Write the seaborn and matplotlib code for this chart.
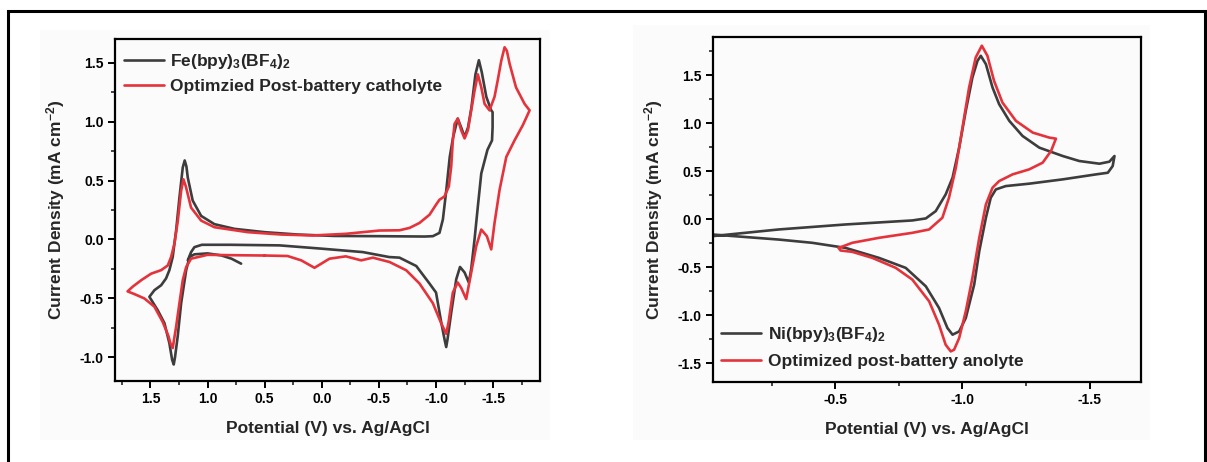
import numpy as np
import pandas as pd
import matplotlib
matplotlib.use("Agg")
import matplotlib.pyplot as plt
from matplotlib.patches import Rectangle
from matplotlib.ticker import MultipleLocator
import seaborn as sns

# ---------------- data ----------------
# Left panel: Fe(bpy)3(BF4)2
fe_v = [0.706, 0.79, 0.88, 1.00, 1.115, 1.158, 1.187, 1.231, 1.261, 1.285, 1.296, 1.31,
        1.334, 1.377, 1.436, 1.509, 1.465, 1.406, 1.363, 1.334, 1.305, 1.275, 1.246, 1.217,
        1.20, 1.185, 1.173, 1.13, 1.056, 0.94, 0.764, 0.50, 0.21, -0.11, -0.5, -0.9, -0.972,
        -1.03, -1.06, -1.09, -1.12, -1.15, -1.19, -1.22, -1.25, -1.28, -1.31, -1.345, -1.375,
        -1.40, -1.44, -1.483, -1.495, -1.495, -1.49, -1.45, -1.396, -1.366, -1.337, -1.308,
        -1.287, -1.25, -1.21, -1.177, -1.133, -1.10, -1.089, -1.075, -1.045, -1.0, -0.94,
        -0.827, -0.68, -0.59, -0.36, 0.0, 0.37, 0.80, 1.05, 1.115, 1.144, 1.173]
fe_i = [-0.205, -0.163, -0.135, -0.118, -0.126, -0.149, -0.26, -0.54, -0.82, -1.0, -1.06, -1.02,
        -0.88, -0.71, -0.60, -0.486, -0.43, -0.388, -0.33, -0.26, -0.149, 0.076, 0.356, 0.61,
        0.67, 0.62, 0.525, 0.33, 0.20, 0.13, 0.09, 0.062, 0.042, 0.03, 0.028, 0.025, 0.028,
        0.056, 0.17, 0.42, 0.70, 0.87, 1.025, 0.95, 0.87, 0.95, 1.12, 1.40, 1.52,
        1.42, 1.21, 1.095, 1.08, 0.95, 0.84, 0.76, 0.56, 0.28, 0.0, -0.25,
        -0.365, -0.28, -0.233, -0.337, -0.62, -0.85, -0.912, -0.85, -0.70, -0.45, -0.37,
        -0.225, -0.154, -0.149, -0.107, -0.078, -0.05, -0.045, -0.045, -0.065, -0.107, -0.177]

# Left panel: optimized post-battery catholyte
cat_v = [0.50, 0.80, 1.0, 1.144, 1.187, 1.217, 1.246, 1.275, 1.305, 1.325, 1.342, 1.392, 1.465,
         1.553, 1.64, 1.70, 1.655, 1.58, 1.494, 1.406, 1.348, 1.319, 1.29, 1.26, 1.231, 1.211,
         1.19, 1.144, 1.056, 0.94, 0.648, 0.355, 0.08, -0.21, -0.505, -0.68, -0.768, -0.855,
         -0.943, -1.0, -1.03, -1.074, -1.112, -1.133, -1.147, -1.162, -1.19, -1.22, -1.25,
         -1.279, -1.308, -1.337, -1.366, -1.396, -1.425, -1.468, -1.512, -1.54, -1.571, -1.60,
         -1.62, -1.644, -1.70, -1.775, -1.819, -1.76, -1.687, -1.615, -1.556, -1.512, -1.483,
         -1.445, -1.396, -1.352, -1.308, -1.264, -1.22, -1.19, -1.147, -1.11, -1.089, -1.045,
         -0.972, -0.855, -0.739, -0.593, -0.447, -0.345, -0.21, -0.067, 0.064, 0.18, 0.30, 0.50]
cat_i = [-0.136, -0.133, -0.13, -0.163, -0.233, -0.345, -0.54, -0.74, -0.92, -0.88, -0.82, -0.70,
         -0.57, -0.50, -0.463, -0.44, -0.40, -0.345, -0.29, -0.26, -0.22, -0.149, -0.036, 0.16,
         0.413, 0.51, 0.45, 0.27, 0.16, 0.104, 0.062, 0.042, 0.034, 0.048, 0.076, 0.078, 0.098,
         0.14, 0.21, 0.295, 0.337, 0.365, 0.45, 0.62, 0.84, 0.98, 1.025, 0.927, 0.857,
         0.927, 1.095, 1.26, 1.40, 1.29, 1.15, 1.095, 1.21, 1.35, 1.516, 1.63,
         1.60, 1.49, 1.29, 1.15, 1.095, 0.97, 0.84, 0.70, 0.42, 0.14, -0.084,
         0.028, 0.084, -0.056, -0.28, -0.505, -0.41, -0.365, -0.45, -0.70, -0.80, -0.71,
         -0.54, -0.373, -0.261, -0.191, -0.154, -0.177, -0.143, -0.163, -0.24, -0.177, -0.14, -0.136]

# Right panel: Ni(bpy)3(BF4)2
ni_v = [-0.016, -0.278, -0.54, -0.803, -0.856, -0.895, -0.934, -0.961, -0.987, -1.013, -1.039,
        -1.059, -1.072, -1.092, -1.118, -1.144, -1.184, -1.236, -1.302, -1.394, -1.459, -1.538,
        -1.577, -1.597, -1.59, -1.571, -1.525, -1.394, -1.262, -1.17, -1.131, -1.111, -1.092,
        -1.066, -1.046, -1.013, -0.987, -0.961, -0.941, -0.908, -0.856, -0.777, -0.672, -0.541,
        -0.41, -0.278, -0.016]
ni_i = [-0.178, -0.108, -0.056, -0.014, 0.007, 0.083, 0.257, 0.431, 0.744, 1.127, 1.475,
        1.649, 1.701, 1.614, 1.371, 1.197, 1.023, 0.866, 0.744, 0.657, 0.605, 0.577,
        0.598, 0.657, 0.553, 0.483, 0.466, 0.414, 0.369, 0.344, 0.309, 0.222, 0.014,
        -0.334, -0.682, -1.03, -1.17, -1.204, -1.135, -0.926, -0.70, -0.508, -0.404, -0.30,
        -0.247, -0.213, -0.16]

# Right panel: optimized post-battery anolyte
ano_v = [-0.514, -0.567, -0.672, -0.803, -0.869, -0.921, -0.947, -0.974, -1.0, -1.026, -1.052,
         -1.076, -1.098, -1.124, -1.157, -1.21, -1.276, -1.341, -1.367, -1.348, -1.315, -1.262,
         -1.197, -1.144, -1.118, -1.092, -1.066, -1.039, -1.013, -0.987, -0.967, -0.954, -0.934,
         -0.908, -0.869, -0.803, -0.738, -0.646, -0.567, -0.521, -0.514]
ano_i = [-0.30, -0.247, -0.195, -0.143, -0.108, 0.014, 0.222, 0.535, 0.953, 1.371, 1.684,
         1.806, 1.701, 1.44, 1.214, 1.023, 0.901, 0.849, 0.838, 0.71, 0.588, 0.518,
         0.466, 0.396, 0.327, 0.153, -0.195, -0.613, -0.96, -1.239, -1.361, -1.378, -1.309,
         -1.1, -0.856, -0.63, -0.508, -0.404, -0.341, -0.327, -0.30]

left_xticks = [1.5, 1.0, 0.5, 0.0, -0.5, -1.0, -1.5]
left_yticks = [-1.0, -0.5, 0.0, 0.5, 1.0, 1.5]
right_xticks = [-0.5, -1.0, -1.5]
right_yticks = [-1.5, -1.0, -0.5, 0.0, 0.5, 1.0, 1.5]

lab_fe = r"Fe(bpy)$_3$(BF$_4$)$_2$"
lab_cat = "Optimzied Post-battery catholyte"
lab_ni = r"Ni(bpy)$_3$(BF$_4$)$_2$"
lab_ano = "Optimized post-battery anolyte"
xlab = "Potential (V) vs. Ag/AgCl"
ylab = r"Current Density (mA cm$^{-2}$)"

# ---------------- style ----------------
sns.set_theme(style="ticks")
plt.rcParams['font.family'] = ['Liberation Sans', 'DejaVu Sans']
plt.rcParams['font.weight'] = 'bold'
plt.rcParams['mathtext.default'] = 'regular'

DARK = "#3d3d3d"
RED = "#e4333b"

W, H = 1207, 462
fig = plt.figure(figsize=(W / 100, H / 100), dpi=100)
fig.patch.set_facecolor("white")

# faint image backgrounds
for (x0, y0, x1, y1) in [(40, 30, 550, 440), (633, 25, 1150, 440)]:
    fig.add_artist(Rectangle((x0 / W, 1 - y1 / H), (x1 - x0) / W, (y1 - y0) / H,
                             transform=fig.transFigure, facecolor="#fbfbfb",
                             edgecolor="none", zorder=-10))
# outer frame
fig.add_artist(Rectangle((8 / W, -0.05), (1205 - 8) / W, 1.05 - 11 / H,
                         transform=fig.transFigure, fill=False, edgecolor="black",
                         lw=2.2, clip_on=False, zorder=5))

axL = fig.add_axes([115 / W, 1 - 381 / H, (540 - 115) / W, (381 - 39) / H])
axR = fig.add_axes([712.7 / W, 1 - 382.3 / H, (1140.7 - 712.7) / W, (382.3 - 36.7) / H])

dfs = {
    "fe": pd.DataFrame({"V": fe_v, "I": fe_i}),
    "cat": pd.DataFrame({"V": cat_v, "I": cat_i}),
    "ni": pd.DataFrame({"V": ni_v, "I": ni_i}),
    "ano": pd.DataFrame({"V": ano_v, "I": ano_i}),
}

sns.lineplot(data=dfs["fe"], x="V", y="I", sort=False, estimator=None, color=DARK,
             lw=1.9, ax=axL, label=lab_fe)
sns.lineplot(data=dfs["cat"], x="V", y="I", sort=False, estimator=None, color=RED,
             lw=1.9, ax=axL, label=lab_cat)
sns.lineplot(data=dfs["ni"], x="V", y="I", sort=False, estimator=None, color=DARK,
             lw=1.9, ax=axR, label=lab_ni)
sns.lineplot(data=dfs["ano"], x="V", y="I", sort=False, estimator=None, color=RED,
             lw=1.9, ax=axR, label=lab_ano)

axL.set_xlim(1.81, -1.91)
axL.set_ylim(-1.20, 1.70)
axR.set_xlim(-0.019, -1.70)
axR.set_ylim(-1.70, 1.90)

axL.set_xticks(left_xticks)
axL.set_xticklabels([f"{t:.1f}" for t in left_xticks])
axL.set_yticks(left_yticks)
axL.set_yticklabels([f"{t:.1f}" for t in left_yticks])
axR.set_xticks(right_xticks)
axR.set_xticklabels([f"{t:.1f}" for t in right_xticks])
axR.set_yticks(right_yticks)
axR.set_yticklabels([f"{t:.1f}" for t in right_yticks])

for ax in (axL, axR):
    ax.set_facecolor("none")
    ax.xaxis.set_minor_locator(MultipleLocator(0.25))
    ax.yaxis.set_minor_locator(MultipleLocator(0.25))
    ax.tick_params(which="major", direction="out", length=5, width=1.4, pad=3,
                   labelsize=10, colors="black")
    ax.tick_params(which="minor", direction="out", length=3, width=1.2)
    for lbl in ax.get_xticklabels() + ax.get_yticklabels():
        lbl.set_fontweight("bold")
    for sp in ax.spines.values():
        sp.set_visible(True)
        sp.set_linewidth(1.6)
        sp.set_color("black")
    ax.set_xlabel(xlab, fontsize=12.5, fontweight="bold", labelpad=10.5)
    ax.set_ylabel(ylab, fontsize=12.5, fontweight="bold", labelpad=9)

axL.legend(loc="upper left", bbox_to_anchor=(0.012, 0.972), frameon=False,
           prop={"weight": "bold", "size": 12.5}, handlelength=2.3,
           handletextpad=0.4, labelspacing=0.45, borderaxespad=0, borderpad=0.2)
axR.legend(loc="lower left", bbox_to_anchor=(0.012, 0.028), frameon=False,
           prop={"weight": "bold", "size": 12.5}, handlelength=2.3,
           handletextpad=0.4, labelspacing=0.55, borderaxespad=0, borderpad=0.2)

fig.savefig("out.png", dpi=100)
